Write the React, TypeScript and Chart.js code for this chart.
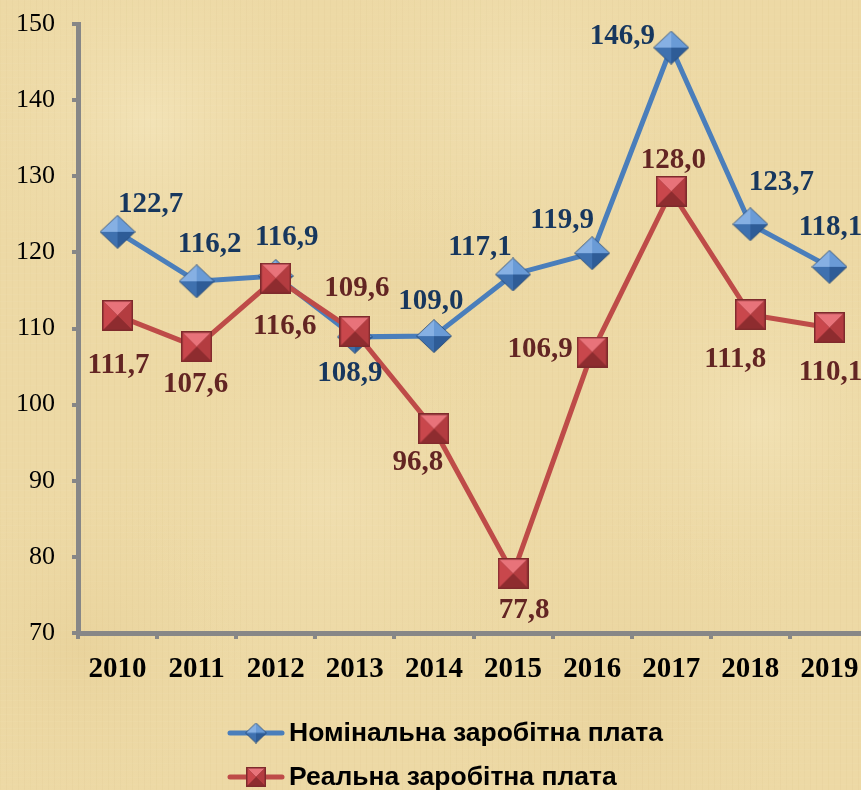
import React, { useEffect, useRef } from "react";
import { Chart, registerables } from "chart.js";

Chart.register(...registerables);

// ---------- data ----------
const years = ["2010", "2011", "2012", "2013", "2014", "2015", "2016", "2017", "2018", "2019"];
const nominalWage = [122.7, 116.2, 116.9, 108.9, 109.0, 117.1, 119.9, 146.9, 123.7, 118.1];
const realWage = [111.7, 107.6, 116.6, 109.6, 96.8, 77.8, 106.9, 128.0, 111.8, 110.1];
const yMin = 70;
const yMax = 150;
const yStep = 10;
const seriesNames = ["Номінальна заробітна плата", "Реальна заробітна плата"];

// ---------- label placement (px offsets from each point) ----------
const nominalLabelOffset: [number, number][] = [
  [33, -27], [13, -37], [11, -38], [-5, 37], [-3, -35],
  [-33, -27], [-30, -33], [-49, -11], [31, -42], [1, -39],
];
const realLabelOffset: [number, number][] = [
  [1, 50], [-1, 38], [9, 48], [2, -43], [-16, 34],
  [11, 37], [-52, -3], [2, -31], [-15, 45], [1, 45],
];

// ---------- styles ----------
const BLUE_LINE = "#4A7EBB";
const RED_LINE = "#BE4B48";
const BLUE_TEXT = "#17375E";
const RED_TEXT = "#632523";
const AXIS_GRAY = "#878787";
const BG = "#EDD9A5";

const fmt = (v: number) => v.toFixed(1).replace(".", ",");

function makeDiamond(w: number, h: number): HTMLCanvasElement {
  const c = document.createElement("canvas");
  c.width = w;
  c.height = h;
  const g = c.getContext("2d")!;
  const cx = w / 2;
  const cy = h / 2;
  const T = [cx, 0.5];
  const R = [w - 0.5, cy];
  const B = [cx, h - 0.5];
  const L = [0.5, cy];
  const face = (a: number[], b: number[], col: string) => {
    g.beginPath();
    g.moveTo(cx, cy);
    g.lineTo(a[0], a[1]);
    g.lineTo(b[0], b[1]);
    g.closePath();
    g.fillStyle = col;
    g.fill();
  };
  face(L, T, "#86B0E3");
  face(T, R, "#6A9BD6");
  face(R, B, "#2E5C97");
  face(B, L, "#3F71AF");
  g.beginPath();
  g.moveTo(T[0], T[1]);
  g.lineTo(R[0], R[1]);
  g.lineTo(B[0], B[1]);
  g.lineTo(L[0], L[1]);
  g.closePath();
  g.strokeStyle = "rgba(35,70,115,0.8)";
  g.lineWidth = 1;
  g.stroke();
  return c;
}

function makeSquare(s: number): HTMLCanvasElement {
  const c = document.createElement("canvas");
  c.width = s;
  c.height = s;
  const g = c.getContext("2d")!;
  g.fillStyle = "#7E2A2C";
  g.fillRect(0, 0, s, s);
  const i = 1.5;
  const a = s - 1.5;
  const cx = s / 2;
  const cy = s / 2;
  const face = (p: number[], q: number[], col: string) => {
    g.beginPath();
    g.moveTo(cx, cy);
    g.lineTo(p[0], p[1]);
    g.lineTo(q[0], q[1]);
    g.closePath();
    g.fillStyle = col;
    g.fill();
  };
  face([i, i], [a, i], "#E8737A");
  face([a, i], [a, a], "#B33C40");
  face([a, a], [i, a], "#8E2C2F");
  face([i, a], [i, i], "#C9474C");
  return c;
}

const backgroundPlugin = {
  id: "parchment",
  beforeDraw(chart: any) {
    const { ctx, width, height } = chart;
    ctx.save();
    ctx.fillStyle = BG;
    ctx.fillRect(0, 0, width, height);
    const blotches: [number, number, number, string][] = [
      [150, 120, 200, "rgba(247,234,196,0.55)"],
      [520, 90, 220, "rgba(245,230,190,0.45)"],
      [760, 420, 200, "rgba(247,234,196,0.45)"],
      [330, 500, 230, "rgba(244,228,186,0.45)"],
      [80, 650, 180, "rgba(226,200,140,0.35)"],
      [620, 700, 220, "rgba(228,203,145,0.35)"],
      [420, 300, 150, "rgba(230,206,150,0.25)"],
    ];
    for (const [x, y, r, col] of blotches) {
      const gr = ctx.createRadialGradient(x, y, 0, x, y, r);
      gr.addColorStop(0, col);
      gr.addColorStop(1, "rgba(237,217,165,0)");
      ctx.fillStyle = gr;
      ctx.fillRect(x - r, y - r, 2 * r, 2 * r);
    }
    for (let x = 0; x < width; x += 6) {
      const a = 0.03 + 0.03 * Math.abs(Math.sin(x * 0.731));
      ctx.fillStyle = `rgba(190,160,100,${a})`;
      ctx.fillRect(x, 0, 1, height);
    }
    for (let y = 0; y < height; y += 7) {
      const a = 0.025 + 0.025 * Math.abs(Math.sin(y * 0.913));
      ctx.fillStyle = `rgba(255,250,230,${a})`;
      ctx.fillRect(0, y, width, 1);
    }
    ctx.restore();
  },
};

const valueLabelPlugin = {
  id: "valueLabels",
  afterDatasetsDraw(chart: any) {
    const ctx = chart.ctx;
    const offsets = [nominalLabelOffset, realLabelOffset];
    const colors = [BLUE_TEXT, RED_TEXT];
    chart.data.datasets.forEach((ds: any, i: number) => {
      const meta = chart.getDatasetMeta(i);
      meta.data.forEach((pt: any, j: number) => {
        ctx.save();
        ctx.font = 'bold 29px "Liberation Serif", "Times New Roman", serif';
        ctx.fillStyle = colors[i];
        ctx.textAlign = "center";
        ctx.textBaseline = "middle";
        ctx.fillText(fmt(ds.data[j]), pt.x + offsets[i][j][0], pt.y + offsets[i][j][1]);
        ctx.restore();
      });
    });
  },
};

function makeLegendPlugin(icons: HTMLCanvasElement[]) {
  return {
    id: "customLegend",
    afterDraw(chart: any) {
      const ctx = chart.ctx;
      const colors = [BLUE_LINE, RED_LINE];
      const x0 = 228;
      const x1 = 284;
      const rows = [733, 777];
      chart.data.datasets.forEach((ds: any, i: number) => {
        const y = rows[i];
        ctx.save();
        ctx.strokeStyle = colors[i];
        ctx.lineWidth = 5;
        ctx.lineCap = "round";
        ctx.beginPath();
        ctx.moveTo(x0 + 2, y);
        ctx.lineTo(x1 - 2, y);
        ctx.stroke();
        const ic = icons[i];
        ctx.drawImage(ic, (x0 + x1) / 2 - ic.width / 2, y - ic.height / 2);
        ctx.font = 'bold 26.5px "Liberation Sans", Arial, sans-serif';
        ctx.fillStyle = "#000000";
        ctx.textAlign = "left";
        ctx.textBaseline = "middle";
        ctx.fillText(ds.label, 289, y + 1);
        ctx.restore();
      });
    },
  };
}

export default function App() {
  const ref = useRef<HTMLCanvasElement>(null);

  useEffect(() => {
    const canvas = ref.current!;
    const diamond = makeDiamond(36, 34);
    const square = makeSquare(31);
    const legendDiamond = makeDiamond(22, 21);
    const legendSquare = makeSquare(20);

    const chart = new Chart(canvas, {
      type: "line",
      data: {
        labels: years,
        datasets: [
          {
            label: seriesNames[0],
            data: nominalWage,
            borderColor: BLUE_LINE,
            backgroundColor: BLUE_LINE,
            borderWidth: 5,
            pointStyle: diamond as any,
            pointRadius: 18,
            tension: 0,
            order: 1,
            clip: false as any,
          },
          {
            label: seriesNames[1],
            data: realWage,
            borderColor: RED_LINE,
            backgroundColor: RED_LINE,
            borderWidth: 5,
            pointStyle: square as any,
            pointRadius: 16,
            tension: 0,
            order: 0,
            clip: false as any,
          },
        ],
      },
      options: {
        animation: false,
        responsive: false,
        maintainAspectRatio: false,
        devicePixelRatio: 1,
        layout: { padding: { left: 0, right: 12, top: 24, bottom: 0 } },
        plugins: {
          legend: { display: false },
          tooltip: { enabled: false },
        },
        scales: {
          x: {
            type: "category",
            offset: true,
            grid: {
              offset: true,
              drawOnChartArea: false,
              drawTicks: true,
              tickLength: 6,
              tickWidth: 4,
              tickColor: AXIS_GRAY,
              color: AXIS_GRAY,
              lineWidth: 4,
            },
            border: { display: true, color: AXIS_GRAY, width: 5 },
            ticks: {
              color: "#000000",
              font: { family: '"Liberation Serif", "Times New Roman", serif', size: 29, weight: "bold" },
              padding: 13,
              maxRotation: 0,
              autoSkip: false,
            },
            afterFit: (s: any) => {
              s.height = 157;
            },
          },
          y: {
            min: yMin,
            max: yMax,
            grid: {
              drawOnChartArea: false,
              drawTicks: true,
              tickLength: 6,
              tickWidth: 4,
              tickColor: AXIS_GRAY,
              color: AXIS_GRAY,
              lineWidth: 4,
            },
            border: { display: true, color: AXIS_GRAY, width: 5 },
            ticks: {
              stepSize: yStep,
              color: "#000000",
              font: { family: '"Liberation Serif", "Times New Roman", serif', size: 26, weight: "normal" },
              padding: 17,
            },
            afterFit: (s: any) => {
              s.width = 78;
              s.paddingTop = 0;
              s.paddingBottom = 0;
            },
          },
        },
      },
      plugins: [backgroundPlugin, valueLabelPlugin, makeLegendPlugin([legendDiamond, legendSquare])],
    });

    return () => chart.destroy();
  }, []);

  return (
    <div
      style={{
        position: "absolute",
        left: 0,
        top: 0,
        width: 861,
        height: 790,
        overflow: "hidden",
        background: BG,
      }}
    >
      <canvas ref={ref} width={892} height={790} style={{ display: "block", width: 892, height: 790 }} />
    </div>
  );
}
